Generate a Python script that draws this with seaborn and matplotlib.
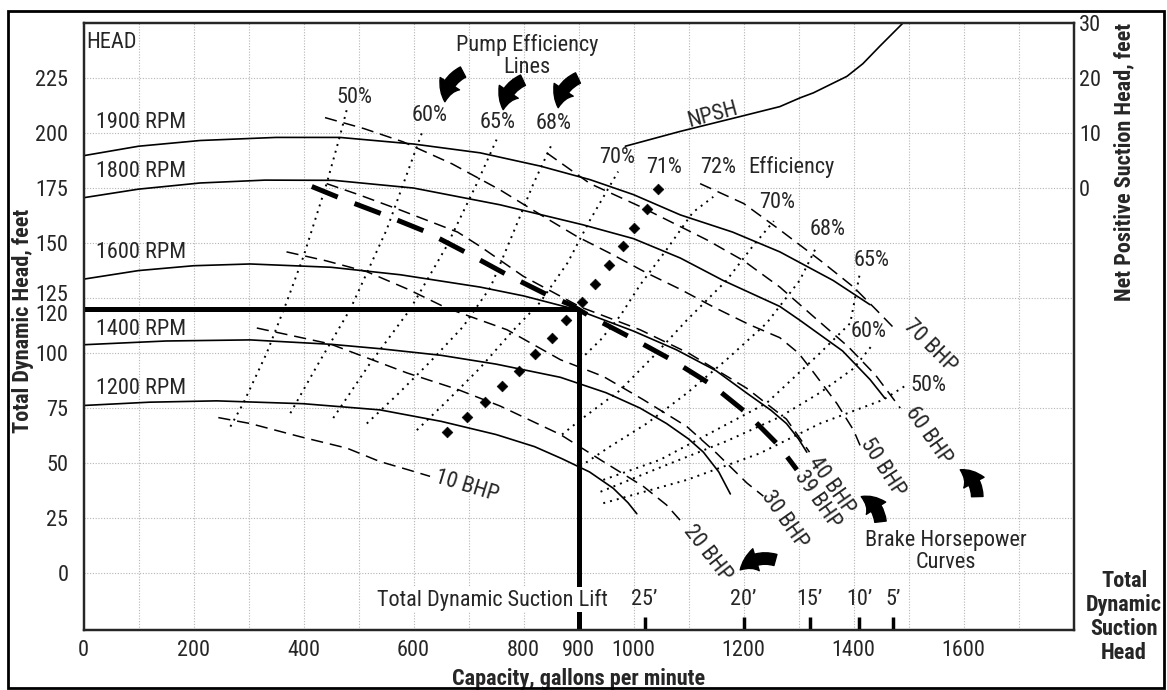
import numpy as np
import seaborn as sns
import matplotlib.pyplot as plt
from matplotlib import font_manager
from matplotlib.patches import Rectangle
from matplotlib.transforms import ScaledTranslation

# head curves: capacity (gpm) vs total dynamic head (ft)
q_1900 = [0, 100, 212, 350, 466, 600, 721, 830, 921, 1000, 1085, 1180, 1266, 1363, 1430]
h_1900 = [189.7, 194, 196.6, 198, 198, 195, 191, 185, 178.8, 172, 162.8, 155, 146, 133, 122]
q_1800 = [0, 100, 212, 330, 455, 600, 757, 908, 1000, 1085, 1163, 1266, 1302, 1380, 1430, 1457]
h_1800 = [170.6, 174.5, 177.3, 178.6, 178.5, 175, 167.4, 158.3, 152, 143.2, 133, 121.2, 115, 101, 88, 79.5]
q_1600 = [0, 100, 200, 303, 450, 576, 721, 800, 897, 1000, 1078, 1150, 1206, 1250, 1278, 1300, 1315]
h_1600 = [133.6, 137.5, 139.7, 140.5, 139, 135.6, 130, 126, 119.7, 110, 101.5, 92, 81.8, 74, 68, 61, 55]
q_1400 = [0, 150, 303, 450, 539, 650, 750, 867, 950, 1012, 1060, 1100, 1127, 1155, 1176]
h_1400 = [103.8, 105.5, 106, 104, 102, 99, 95, 89, 82, 75, 68, 61, 55, 46, 36]
q_1200 = [0, 120, 242, 400, 539, 650, 750, 820, 870, 920, 963, 990, 1006]
h_1200 = [76.2, 77.7, 78.3, 77, 74.2, 69, 63, 57.5, 52, 46, 38.6, 32, 27]
rpm_names = ['1900 RPM', '1800 RPM', '1600 RPM', '1400 RPM', '1200 RPM']
rpm_label_h = [205, 182.4, 145.8, 110.6, 84]

# brake horsepower curves
b10_q = [245, 303, 394, 479, 539, 590, 630]
b10_h = [70.7, 68, 62, 56.8, 50.7, 47, 44]
b20_q = [315, 448, 588, 680, 757, 867, 945, 1018, 1060, 1092]
b20_h = [111.4, 104.2, 91, 83.5, 76, 63, 50.7, 39.4, 31, 22]
b30_q = [369, 440, 515, 590, 660, 770, 867, 945, 1018, 1097, 1151, 1206, 1236]
b30_h = [146, 142, 137, 129, 120.5, 110.6, 97, 89.4, 78.8, 66.6, 54.5, 41, 35]
b39_q = [415, 467, 545, 624, 697, 770, 847, 885, 922, 997, 1069, 1142, 1206, 1263, 1297]
b39_h = [175.7, 170.4, 163, 155, 145.5, 135.6, 126, 122, 116.6, 106.8, 97, 85.6, 72.7, 58.3, 47]
b40_q = [442, 500, 576, 680, 721, 799, 903, 1012, 1100, 1206, 1278, 1320]
b40_h = [177, 172, 165, 155, 148.5, 135, 121, 110.6, 100, 84, 70, 55]
b50_q = [439, 510, 581, 670, 757, 830, 897, 960, 1024, 1085, 1145, 1210, 1266, 1300, 1328, 1370, 1400, 1412]
b50_h = [207, 202, 196, 186, 174.2, 163, 153, 145, 136.4, 129, 121, 113, 107, 100, 91, 77, 65, 58]
b60_q = [842, 921, 1012, 1133, 1200, 1266, 1330, 1390, 1440, 1470, 1485]
b60_h = [191, 177, 166.6, 151.5, 142, 130, 116, 103, 90, 80, 75]
b70_q = [1121, 1200, 1266, 1340, 1400, 1440, 1475]
b70_h = [177, 168, 156, 142, 130, 120, 111]
bhp_names = ['10 BHP', '20 BHP', '30 BHP', '39 BHP', '40 BHP', '50 BHP', '60 BHP', '70 BHP']
bhp_label_q = [696, 1134, 1274, 1334, 1359, 1453, 1536, 1539]
bhp_label_h = [39.4, 9.2, 24.2, 33.3, 39.7, 48, 62.4, 103]
bhp_label_rot = [-17, -52, -55, -55, -55, -57, -55, -45]

# efficiency lines, left branches
e50l_q = [267, 290, 333, 369, 400, 442, 466, 479]
e50l_h = [66.6, 77, 100, 123, 144, 177, 198.5, 211]
e60l_q = [376, 424, 485, 551, 618]
e60l_h = [72.7, 94, 120, 156, 202]
e65l_q = [454, 520, 594, 660, 715, 751]
e65l_h = [70.5, 95, 120, 148.5, 177, 197]
e68l_q = [515, 570, 630, 690, 740, 781, 818, 851]
e68l_h = [68, 81, 96, 112, 130, 154.5, 177, 194.7]
e70l_q = [606, 660, 720, 780, 830, 880, 921, 972]
e70l_h = [65, 78, 93, 110, 123, 141, 160.5, 182.5]
# right branches
e72r_q = [903, 940, 976, 1012, 1060, 1108, 1145]
e72r_h = [97, 106, 117, 131, 147, 164, 171]
e70r_q = [870, 903, 975, 1036, 1097, 1169, 1215, 1255]
e70r_h = [63, 69.6, 83, 98.5, 115, 133, 148, 160]
e68r_q = [903, 957, 1024, 1097, 1169, 1242, 1302, 1330]
e68r_h = [48.5, 57.5, 68, 81.8, 97, 113.6, 133, 147]
e65r_q = [945, 1048, 1139, 1242, 1339, 1394, 1411]
e65r_h = [42.4, 51.5, 63.6, 77.3, 100, 113.6, 135.6]
e60r_q = [940, 1048, 1169, 1266, 1339, 1400, 1432]
e60r_h = [37, 48, 60, 71, 82, 93, 103]
e50r_q = [945, 1097, 1230, 1339, 1454, 1497]
e50r_h = [31.8, 42.4, 54.5, 68, 78.8, 85.6]
# 71 % line (square dots)
m71_q = [661, 697, 730, 761, 792, 821, 851, 878, 906, 930, 955, 980, 1001, 1024, 1045]
m71_h = [64, 71, 78, 85, 92, 99.5, 107, 115, 123, 131.5, 140, 148.5, 157, 165.6, 174.6]

eff_top_names = ['50%', '60%', '65%', '68%', '70%', '71%', '72%']
eff_top_q = [492, 630, 753, 855, 970, 1056, 1153]
eff_top_h = [216.3, 207.9, 204.9, 204.2, 188.8, 184.5, 184.5]
eff_right_names = ['70%', '68%', '65%', '60%', '50%']
eff_right_q = [1261, 1353, 1432, 1428, 1537]
eff_right_h = [168.3, 156, 142, 109.7, 85.1]

# NPSH curve (right axis, ft)
npsh_q = [985, 1085, 1194, 1266, 1303, 1327, 1388, 1417, 1448, 1472, 1490]
npsh_ft = [7.6, 10.3, 13, 14.8, 16.4, 17.3, 20.3, 22.6, 25.8, 28.2, 30]

# operating point and suction lift scale
op_q, op_h = 900, 120
lift_q = [1020, 1200, 1320, 1410, 1472]
lift_labels = ['25\u2019', '20\u2019', '15\u2019', '10\u2019', '5\u2019']

xtick_vals = [0, 200, 400, 600, 800, 900, 1000, 1200, 1400, 1600]
ytick_vals = [0, 25, 50, 75, 100, 120, 125, 150, 175, 200, 225]
npsh_ticks = [0, 10, 20, 30]

sns.set_style('white')
installed = {f.name for f in font_manager.fontManager.ttflist}
narrow = [n for n in ['Liberation Sans Narrow', 'Roboto Condensed', 'Open Sans Condensed']
          if n in installed]
plt.rcParams['font.family'] = narrow + ['Liberation Sans', 'DejaVu Sans']
fs = 16 if narrow else 14.5

fig = plt.figure(figsize=(11.67, 6.9), dpi=100)
ax = fig.add_axes([0.0716, 0.0870, 0.8483, 0.8797])
ylo, yhi = -25.8, 250
ax.set_xlim(0, 1800)
ax.set_ylim(ylo, yhi)


def curve(q, h, **kw):
    sns.lineplot(x=q, y=h, ax=ax, sort=False, estimator=None, legend=False,
                 color='black', **kw)


dash = (0, (8, 4.5))
dot = (0, (1, 2.6))

for q, h in [(q_1900, h_1900), (q_1800, h_1800), (q_1600, h_1600),
             (q_1400, h_1400), (q_1200, h_1200)]:
    curve(q, h, linewidth=1.2)

for q, h in [(b10_q, b10_h), (b20_q, b20_h), (b30_q, b30_h), (b40_q, b40_h),
             (b50_q, b50_h), (b60_q, b60_h), (b70_q, b70_h)]:
    curve(q, h, linewidth=1.1, linestyle=dash)
curve(b39_q, b39_h, linewidth=3.6, linestyle=(0, (5.6, 3.6)))

for q, h in [(e50l_q, e50l_h), (e60l_q, e60l_h), (e65l_q, e65l_h), (e68l_q, e68l_h),
             (e70l_q, e70l_h), (e72r_q, e72r_h), (e70r_q, e70r_h), (e68r_q, e68r_h),
             (e65r_q, e65r_h), (e60r_q, e60r_h), (e50r_q, e50r_h)]:
    curve(q, h, linewidth=1.4, linestyle=dot)

sns.scatterplot(x=m71_q, y=m71_h, ax=ax, marker='D', s=30, color='black',
                edgecolor='black', legend=False, zorder=4)

# operating point lines
ax.hlines(op_h, 0, op_q, color='black', linewidth=3.6, zorder=5)
ax.vlines(op_q, ylo, op_h, color='black', linewidth=3.6, zorder=5)

# suction lift marks
ax.vlines(lift_q, ylo, -20, color='black', linewidth=2.5, zorder=5)
for q, lab in zip(lift_q, lift_labels):
    ax.text(q, -12, lab, ha='center', va='center', fontsize=fs)
ax.text(744, -12, 'Total Dynamic Suction Lift', ha='center', va='center', fontsize=fs,
        zorder=6, bbox=dict(facecolor='white', edgecolor='none', pad=1))

# labels
ax.text(4.5, 241, 'HEAD', ha='left', va='center', fontsize=fs)
for name, hh in zip(rpm_names, rpm_label_h):
    ax.text(22, hh, name, ha='left', va='center', fontsize=fs)
for name, q, hh, r in zip(bhp_names, bhp_label_q, bhp_label_h, bhp_label_rot):
    ax.text(q, hh, name, ha='center', va='center', fontsize=fs, rotation=r,
            rotation_mode='anchor')
for name, q, hh in zip(eff_top_names, eff_top_q, eff_top_h):
    ax.text(q, hh, name, ha='center', va='center', fontsize=fs)
ax.text(1208, 184.5, 'Efficiency', ha='left', va='center', fontsize=fs)
for name, q, hh in zip(eff_right_names, eff_right_q, eff_right_h):
    ax.text(q, hh, name, ha='center', va='center', fontsize=fs)
ax.text(1143, 208.3, 'NPSH', ha='center', va='center', fontsize=fs, rotation=15)
ax.text(806, 235, 'Pump Efficiency\nLines', ha='center', va='center', fontsize=fs,
        linespacing=1.05)
ax.text(1568, 9.7, 'Brake Horsepower\nCurves', ha='center', va='center', fontsize=fs,
        linespacing=1.05)

# curved arrows
arrows = [((690, 227.7), (657, 214.2)), ((799, 224), (763, 210.6)),
          ((899, 225), (863, 211.5)), ((1258, 6), (1194, 1.5)),
          ((1449, 23.4), (1414, 34.8)), ((1625, 34.8), (1594, 47))]
for tail, head in arrows:
    ax.annotate('', xy=head, xytext=tail,
                arrowprops=dict(arrowstyle='simple,head_length=0.9,head_width=1.1,tail_width=0.55',
                                connectionstyle='arc3,rad=0.3', color='black',
                                mutation_scale=15, shrinkA=0, shrinkB=0))

# grid and ticks
ax.xaxis.remove_overlapping_locs = False
ax.yaxis.remove_overlapping_locs = False
ax.set_xticks(xtick_vals)
ax.set_xticks(np.arange(100, 1800, 100), minor=True)
ax.set_yticks(ytick_vals)
ax.set_yticks(np.arange(0, 250, 25), minor=True)
ax.grid(False)
ax.grid(which='minor', color='#b5b5b5', linestyle=(0, (1, 1.5)), linewidth=0.8)
ax.tick_params(which='both', length=0)
ax.tick_params(axis='y', labelsize=fs, pad=11)
ax.tick_params(axis='x', labelsize=fs, pad=7)
for lbl in ax.get_yticklabels():
    if lbl.get_text() == '125':
        lbl.set_transform(lbl.get_transform() + ScaledTranslation(0, 4 / 72, fig.dpi_scale_trans))
    elif lbl.get_text() == '120':
        lbl.set_transform(lbl.get_transform() + ScaledTranslation(0, -3 / 72, fig.dpi_scale_trans))
for s in ax.spines.values():
    s.set_color('black')
    s.set_linewidth(1.6)

ax.set_xlabel('Capacity, gallons per minute', fontsize=fs, fontweight='bold')
ax.xaxis.set_label_coords(0.5, -0.062)
ax.set_ylabel('Total Dynamic Head, feet', fontsize=fs, fontweight='bold')
ax.yaxis.set_label_coords(-0.05, 0.51)

# right axis: net positive suction head
ax2 = ax.twinx()
ax2.set_ylim((ylo - 175) / 2.5, (yhi - 175) / 2.5)
sns.lineplot(x=npsh_q, y=npsh_ft, ax=ax2, sort=False, estimator=None, legend=False,
             color='black', linewidth=1.2)
ax2.set_yticks(npsh_ticks)
ax2.tick_params(length=0, labelsize=fs, pad=4)
ax2.set_ylabel('Net Positive Suction Head, feet', fontsize=fs, fontweight='bold')
ax2.yaxis.set_label_coords(1.040, 0.771)
ax2.grid(False)
for s in ax2.spines.values():
    s.set_linewidth(1.6)

fig.text(1124 / 1167, 1 - 617 / 690, 'Total\nDynamic\nSuction\nHead', ha='center',
         va='center', fontsize=fs, fontweight='bold', linespacing=1.1)

fig.patches.append(Rectangle((0.0069, 0.003), 0.9905, 0.981, transform=fig.transFigure,
                             fill=False, edgecolor='black', linewidth=2))

fig.savefig('out.png', dpi=100)
